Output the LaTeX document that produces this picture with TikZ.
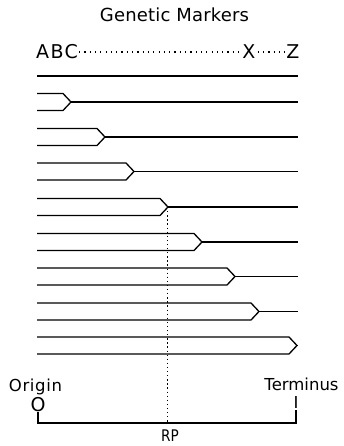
\documentclass[tikz,border=0pt]{standalone}
\usepackage{fontspec}
\setmainfont{DejaVu Sans}
\begin{document}
\begin{tikzpicture}[x=1pt,y=-1pt,
  strand/.style={line width=1.3pt, line join=miter},
  lbl/.style={inner sep=0pt, font=\fontsize{16.5}{18}\selectfont},
  big/.style={inner sep=0pt, font=\fontsize{19}{22}\selectfont\addfontfeature{LetterSpace=7}},
  dotline/.style={line width=1.5pt, dash pattern=on 1.2pt off 4.1pt},
  vdots/.style={line width=1.3pt, dash pattern=on 1.3pt off 2.8pt}]
\useasboundingbox (0,0) rectangle (343,446);
% title
\node[inner sep=0pt, font=\fontsize{18}{20}\selectfont\addfontfeature{LetterSpace=1}] (title) at (174.5,15) {Genetic Markers};
% marker labels
\node[big, anchor=west] (abc) at (36,52) {ABC};
\node[big] (x) at (249,52) {X};
\node[big] (z) at (293,52) {Z};
\draw[dotline] (abc.east) ++(1,0) -- ([xshift=-2pt]x.west);
\draw[dotline] (x.east) ++(2,0) -- ([xshift=-2pt]z.west);
% top unreplicated strand
\draw[strand] (37,76) -- (298,76);
% replicating chromosomes
\foreach \m/\e in {102/63, 137/97, 171.5/126, 207/160, 242/194, 276.5/227, 311.5/251, 345.5/289} {
  \draw[strand] (37,\m-8.5) -- (\e,\m-8.5) -- (\e+8,\m) -- (\e,\m+8.5) -- (37,\m+8.5);
  \draw[strand] (\e+8,\m) -- (298,\m);
}
% bottom map
\node[lbl, anchor=base] (origin) at (35.5,391) {\addfontfeature{LetterSpace=4}Origin};
\node[lbl, anchor=base] (terminus) at (301.5,390) {Terminus};
\node[inner sep=0pt, font=\fontsize{19}{21}\selectfont] (o) at (38,405) {O};
\node[inner sep=0pt, font=\fontsize{16.5}{18}\selectfont] (i) at (296,402.5) {I};
\coordinate (bl) at (38,423);
\coordinate (br) at (296,423);
\draw[line width=2.2pt] (o.south) -- (bl) -- (br) -- ([yshift=-1pt]i.south);
\node[inner sep=0pt, font=\fontsize{16}{18}\selectfont\addfontfeature{FakeStretch=0.85}] (rp) at (170,436) {RP};
\coordinate (rptop) at (167.5,207);
\draw[vdots] (rptop) -- (rptop |- br);
\end{tikzpicture}
\end{document}
